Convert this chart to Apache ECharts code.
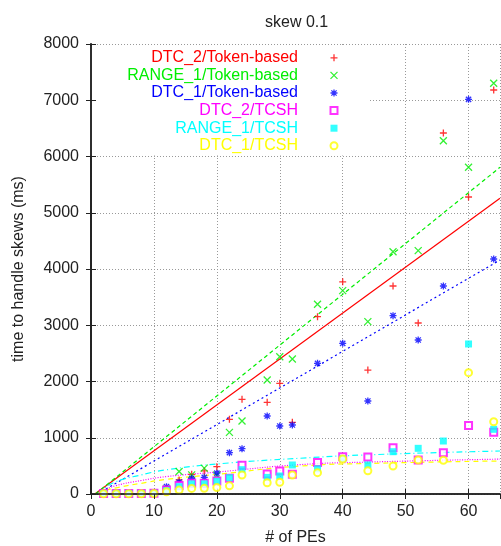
<!DOCTYPE html>
<html><head><meta charset="utf-8">
<script src="https://cdn.jsdelivr.net/npm/echarts@6/dist/echarts.min.js"></script>
<style>html,body{margin:0;padding:0;background:#fff}#c{width:501px;height:546px}</style>
</head><body><div id="c"></div>
<script>
// ---- data ----
const pes = [2,4,6,8,10,12,14,16,18,20,22,24,28,30,32,36,40,44,48,52,56,60,64];
const dtc2Token  = [10,10,10,10,15,80,250,350,410,486,1327,1683,1630,1967,1275,3152,3772,2204,3698,3040,6418,5280,7182];
const range1Token= [10,10,10,10,15,90,400,340,460,338,1096,1298,2027,2441,2400,3372,3615,3064,4308,4326,6281,5808,7301];
const dtc1Token  = [10,10,10,10,15,130,210,280,296,370,735,805,1387,1209,1227,2323,2679,1653,3170,2738,3698,7017,4178];
const dtc2Tcsh   = [10,10,10,10,12,70,150,190,190,230,279,510,356,409,352,560,664,658,824,604,735,1218,1096];
const range1Tcsh = [10,10,10,10,12,60,130,180,180,225,290,433,295,320,516,448,630,516,752,812,942,2667,1150];
const dtc1Tcsh   = [5,5,5,5,8,40,70,100,101,115,145,338,201,208,338,379,622,412,498,604,601,2157,1285];
// fitted curves
const fitDtc2Token   = [[0.6,0],[65,5257]];
const fitRange1Token = [[0.7,0],[65,5808]];
const fitDtc1Token   = [[1.0,0],[65,4160]];
const fitDtc2Tcsh    = [[1.1,0],[2,60],[4,150],[8,240],[12,310],[20,390],[33,520],[45,570],[65,620]];
const fitRange1Tcsh  = [[1.2,0],[2,90],[4,220],[8,340],[12,430],[20,533],[33,634],[45,700],[65,764]];
const fitDtc1Tcsh    = [[1.1,0],[2,50],[4,110],[8,190],[12,260],[20,350],[33,495],[45,545],[65,587]];
const xTicks = {min:0, max:65, interval:10};
const yTicks = {min:0, max:8000, interval:1000};

const FONT = 'Liberation Sans, Arial, sans-serif';
const pair = (xs, ys) => xs.map((x,i)=>[x, ys[i]]);
const SYM = {
  plus: 'path://M0,4L8,4M4,0L4,8',
  cross: 'path://M0,0L8,8M8,0L0,8',
  star: 'path://M0,4L8,4M4,0L4,8M1,1L7,7M7,1L1,7'
};
function scat(name, ys, color, symbol, size, kind){
  let itemStyle;
  if (kind === 'fill') itemStyle = {color};
  else if (kind === 'path') itemStyle = {color:'none', borderColor: color, borderWidth: 1.3};
  else itemStyle = {color, borderWidth: 1.3};
  return {name, type:'scatter', data: pair(pes, ys), symbol, symbolSize: size, itemStyle, z: 3};
}
function fit(data, color, type, smooth){
  return {type:'line', data, showSymbol:false, silent:true, smooth: smooth, z:2,
    lineStyle:{color, width:1.2, type}};
}
const names = ['DTC_2/Token-based','RANGE_1/Token-based','DTC_1/Token-based','DTC_2/TCSH','RANGE_1/TCSH','DTC_1/TCSH'];
const colors = ['#ff0000','#00ee00','#0000ff','#ff00ff','#00ffff','#ffff00'];

const frameAxis = {show:true, lineStyle:{color:'#222', width:1.5}};
const tickIn = {show:true, inside:true, length:5, lineStyle:{color:'#222', width:1}};
const plain = v => String(v);

const option = {
  animation:false,
  backgroundColor:'#fff',
  textStyle:{fontFamily:FONT},
  title:{text:'skew 0.1', left:260, top:10, textStyle:{fontFamily:FONT, fontSize:16, fontWeight:'normal', color:'#222'}},
  grid:{left:91, right:1, top:44, bottom:52, containLabel:false, outerBoundsMode:'none'},
  legend:{
    data: names.map((n,i)=>({name:n, itemStyle:{borderWidth:1.3}, textStyle:{color:colors[i]}})),
    orient:'vertical', align:'right', right:131, top:46,
    padding:[3,30,1,18], backgroundColor:'#fff',
    itemWidth:7, itemHeight:7, itemGap:0, selectedMode:false,
    textStyle:{fontFamily:FONT, fontSize:16, width:190, lineHeight:17.6, padding:[0,27.5,0,0]}
  },
  xAxis:[
    {type:'value', ...xTicks, position:'bottom',
     name:'# of PEs', nameLocation:'middle', nameGap:36,
     nameTextStyle:{fontFamily:FONT, fontSize:16, color:'#222'},
     axisLine:frameAxis, axisTick:tickIn,
     axisLabel:{fontFamily:FONT, fontSize:16, color:'#222', margin:10, showMaxLabel:false, formatter:plain},
     splitLine:{show:true, lineStyle:{color:'#999', width:1, type:[1,2]}}},
    {type:'value', ...xTicks, position:'top', z:10,
     axisLine:frameAxis, axisTick:tickIn, axisLabel:{show:false}, splitLine:{show:false}}
  ],
  yAxis:[
    {type:'value', ...yTicks, position:'left',
     name:'time to handle skews (ms)', nameLocation:'middle', nameGap:64, nameRotate:90,
     nameTextStyle:{fontFamily:FONT, fontSize:16, color:'#222'},
     axisLine:frameAxis, axisTick:tickIn,
     axisLabel:{fontFamily:FONT, fontSize:16, color:'#222', margin:12, formatter:plain},
     splitLine:{show:true, lineStyle:{color:'#999', width:1, type:[1,2]}}},
    {type:'value', ...yTicks, position:'right', z:10,
     axisLine:frameAxis, axisTick:tickIn, axisLabel:{show:false}, splitLine:{show:false}},
    {type:'value', ...yTicks, position:'left', z:10,
     axisLine:frameAxis, axisTick:tickIn, axisLabel:{show:false}, splitLine:{show:false}}
  ],
  series:[
    fit(fitDtc2Token, colors[0], 'solid', false),
    fit(fitRange1Token, colors[1], [4,3], false),
    fit(fitDtc1Token, colors[2], [2,3], false),
    fit(fitDtc2Tcsh, colors[3], [1,1.5], true),
    fit(fitRange1Tcsh, colors[4], [6,3,1,3], true),
    fit(fitDtc1Tcsh, colors[5], [5,4], true),
    scat(names[0], dtc2Token, colors[0], SYM.plus, 7, 'path'),
    scat(names[1], range1Token, colors[1], SYM.cross, 7, 'path'),
    scat(names[2], dtc1Token, colors[2], SYM.star, 7, 'path'),
    scat(names[3], dtc2Tcsh, colors[3], 'emptyRect', 7, 'empty'),
    scat(names[4], range1Tcsh, colors[4], 'rect', 7, 'fill'),
    scat(names[5], dtc1Tcsh, colors[5], 'emptyCircle', 7, 'empty')
  ]
};
const chart = echarts.init(document.getElementById('c'), null, {renderer:'canvas'});
chart.setOption(option);
</script>
</body></html>
